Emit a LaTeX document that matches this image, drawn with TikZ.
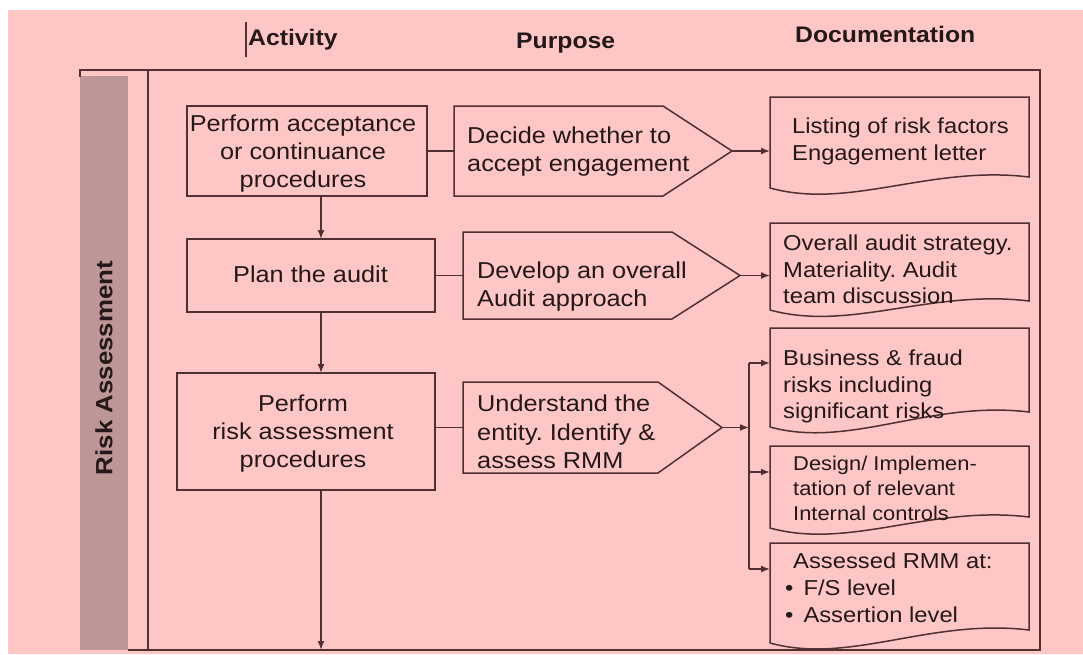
\documentclass[tikz,border=0pt]{standalone}
\usepackage{fontspec}
\setmainfont{Liberation Sans}[FakeStretch=1.1]
\usetikzlibrary{arrows.meta,calc}
\definecolor{bgpink}{RGB}{255,198,198}
\definecolor{barc}{RGB}{190,150,150}
\definecolor{linec}{RGB}{80,48,48}
\definecolor{textc}{RGB}{36,24,24}
\frenchspacing
\tikzset{
  ln/.style={draw=linec, line width=1.5pt},
  arr/.style={ln, -{Latex[length=9pt,width=7pt]}},
  shp/.style={rectangle, inner sep=0pt, outer sep=0pt},
  boxn/.style={shp, ln},
  txt/.style={inner sep=0pt, text=textc, font=\fontsize{23}{28.3}\selectfont},
  btxt/.style={txt, align=center, anchor=north},
  ptxt/.style={txt, align=left, anchor=north west},
  dtxt/.style={inner sep=0pt, text=textc, font=\fontsize{21.6}{26.7}\selectfont, align=left, anchor=north west},
  stxt/.style={inner sep=0pt, text=textc, font=\fontsize{19.9}{25}\selectfont, align=left, anchor=north west},
  hdr/.style={inner sep=0pt, text=textc, font=\bfseries\fontsize{22.5}{27}\selectfont, anchor=base west},
}
\newcommand\docwave[2]{%
  \draw[ln] ($(#1.south west)+(0,#2)$) -- (#1.north west) -- (#1.north east) -- (#1.south east)
    .. controls ($(#1.south east)+(-99,-12)$) and ($(#1.south west)+(80,#2+22)$) .. ($(#1.south west)+(0,#2)$) -- cycle;}
\newcommand\purpshape[2]{%
  \draw[ln] (#1.north west) -- (#1.north east) -- (#2) -- (#1.south east) -- (#1.south west) -- cycle;}
\begin{document}
\begin{tikzpicture}[x=1pt,y=-1pt]
\useasboundingbox (0,0) rectangle (1083,654);
\fill[white] (0,0) rectangle (1083,654);
\fill[bgpink] (8,10) rectangle (1083,654);

% headers
\draw[linec, line width=1.3pt] (246,22) -- (246,57);
\node[hdr] (hact) at (248,45) {Activity};
\node[hdr] (hpur) at (516,48) {Purpose};
\node[hdr] (hdoc) at (795,42) {Documentation};

% lane bar and frame
\fill[barc] (80,76) rectangle (128,650);
\node[inner sep=0pt, text=textc, font=\bfseries\fontsize{23.5}{28}\selectfont, rotate=90] (lane) at (104,368) {Risk Assessment};
\draw[ln] (80,77) -- (80,70) -- (1040,70) -- (1040,650) -- (128,650);
\draw[ln] (148,70) -- (148,650);

% activity boxes
\node[boxn, minimum width=240pt, minimum height=90pt] (b1) at (307,151) {};
\node[btxt] (b1t) at (303,114.5) {Perform acceptance\\or continuance\\procedures};
\node[boxn, minimum width=248pt, minimum height=73pt] (b2) at (311,275.5) {};
\node[btxt] (b2t) at (310.5,265.5) {Plan the audit};
\node[boxn, minimum width=258pt, minimum height=117pt] (b3) at (306,431.5) {};
\node[btxt] (b3t) at (303,394.5) {Perform\\risk assessment\\procedures};

% purpose shapes
\node[shp, minimum width=209pt, minimum height=90pt] (p1) at (558.5,151) {};
\coordinate (p1t) at (732,151);
\purpshape{p1}{p1t}
\node[ptxt] (p1x) at (467,126.5) {Decide whether to\\accept engagement};
\node[shp, minimum width=209pt, minimum height=87pt] (p2) at (567.5,275.5) {};
\coordinate (p2t) at (740,275.5);
\purpshape{p2}{p2t}
\node[ptxt] (p2x) at (477,261.5) {Develop an overall\\Audit approach};
\node[shp, minimum width=195pt, minimum height=91pt] (p3) at (560.5,427.5) {};
\coordinate (p3t) at (722,427.5);
\purpshape{p3}{p3t}
\node[ptxt] (p3x) at (477,395) {Understand the\\entity. Identify \&\\assess RMM};

% documents
\node[shp, minimum width=259pt, minimum height=80pt] (d1) at (899.5,137) {};
\docwave{d1}{11}
\node[dtxt] (d1x) at (792,117.8) {Listing of risk factors\\Engagement letter};
\node[shp, minimum width=259pt, minimum height=78pt] (d2) at (899.5,262) {};
\docwave{d2}{9}
\node[dtxt] (d2x) at (783,234.5) {Overall audit strategy.\\Materiality. Audit\\team discussion};
\node[shp, minimum width=259pt, minimum height=84pt] (d3) at (899.5,370) {};
\docwave{d3}{15}
\node[dtxt] (d3x) at (783,349.5) {Business \& fraud\\risks including\\significant risks};
\node[shp, minimum width=259pt, minimum height=71pt] (d4) at (899.5,481.5) {};
\docwave{d4}{11}
\node[stxt] (d4x) at (793,455.8) {Design/ Implemen-\\tation of relevant\\Internal controls};
\node[shp, minimum width=259pt, minimum height=87pt] (d5) at (899.5,586.5) {};
\docwave{d5}{13}
\node[dtxt] (d5x) at (785,552.8) {\hspace*{8pt}Assessed RMM at:\\•\hspace{10pt}F/S level\\•\hspace{10pt}Assertion level};

% connectors
\coordinate (ax) at (321,0);
\coordinate (fbot) at (321,650);
\draw[arr] (b1.south -| ax) -- (b2.north -| ax);
\draw[arr] (b2.south -| ax) -- (b3.north -| ax);
\draw[arr] (b3.south -| ax) -- (fbot);
\draw[ln] (b1.east |- p1.west) -- (p1.west);
\draw[ln] (b2.east |- p2.west) -- (p2.west);
\draw[ln] (b3.east |- p3.west) -- (p3.west);
\draw[arr] (p1t) -- (p1t -| d1.west);
\draw[arr] (p2t) -- (p2t -| d2.west);
\coordinate (br) at (749,427.5);
\coordinate (v1) at (749,363);
\coordinate (v2) at (749,472);
\coordinate (v3) at (749,569);
\draw[arr] (p3t) -- (br);
\draw[ln] (v1) -- (v3);
\draw[arr] (v1) -- (v1 -| d3.west);
\draw[arr] (v2) -- (v2 -| d4.west);
\draw[arr] (v3) -- (v3 -| d5.west);
\end{tikzpicture}
\end{document}
